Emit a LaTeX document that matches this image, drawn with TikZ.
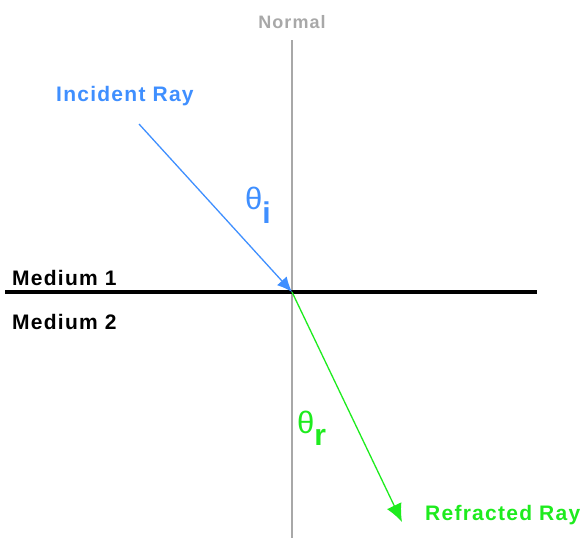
\documentclass[tikz,border=0pt]{standalone}
\usepackage{fontspec}
\setmainfont{Liberation Sans}
\newfontfamily\lblfont[LetterSpace=6]{Liberation Sans}
\usetikzlibrary{arrows.meta}
\definecolor{normalcol}{HTML}{A8A8A8}
\definecolor{incidentcol}{HTML}{3F8FFF}
\definecolor{refractcol}{HTML}{1EEB1E}

\begin{document}
\begin{tikzpicture}[x=1pt, y=-1pt,
  lbl/.style={font=\lblfont\bfseries\fontsize{21}{25}\selectfont, inner sep=0pt},
  angle/.style={font=\fontsize{31}{34}\selectfont, inner sep=0pt},
  ray/.style={line width=1.3pt},
]
\useasboundingbox (0,0) rectangle (582,538);

% points of the set-up
\coordinate (hit) at (292,292);
\coordinate (ntop) at (292,40);
\coordinate (nbot) at (292,538);
\coordinate (sleft) at (5,292);
\coordinate (sright) at (537,292);
\coordinate (src) at (139,124);
\coordinate (dst) at (402,522);

% normal and boundary
\draw[normalcol, line width=1.6pt] (ntop) -- (nbot);
\draw[black, line width=4pt] (sleft) -- (sright);

% rays
\draw[ray, incidentcol, -{Latex[length=15pt, width=13pt]}] (src) -- (hit);
\draw[ray, refractcol, -{Latex[length=18pt, width=16pt]}] (hit) -- (dst);

% labels
\node[lbl, text=normalcol, font=\lblfont\bfseries\fontsize{18}{22}\selectfont, anchor=base] (normal) at (292,28) {Normal};
\node[lbl, text=incidentcol, anchor=base west] (inclbl) at (56,101) {Incident Ray};
\node[lbl, text=refractcol, anchor=base west] (reflbl) at (425,520) {Refracted Ray};
\node[lbl, anchor=base west] (med1) at (12,285) {Medium 1};
\node[lbl, anchor=base west] (med2) at (12,329) {Medium 2};

% angles
\node[angle, text=incidentcol, anchor=base west] (thi) at (245,209) {θ\raisebox{-14pt}{\bfseries\fontsize{30}{32}\selectfont i}};
\node[angle, text=refractcol, anchor=base west] (thr) at (297,433) {θ\raisebox{-12pt}{\bfseries\fontsize{30}{32}\selectfont r}};

\end{tikzpicture}
\end{document}
